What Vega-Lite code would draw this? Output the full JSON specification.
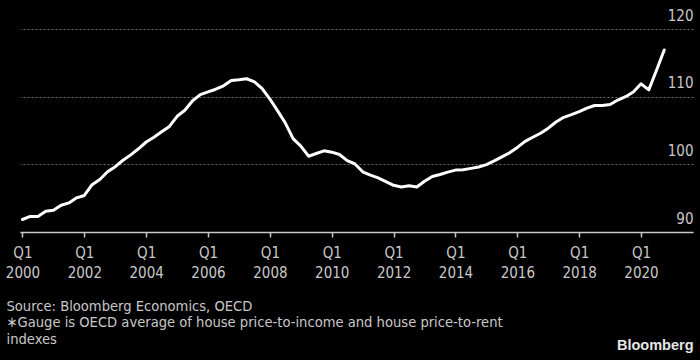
{
  "$schema": "https://vega.github.io/schema/vega-lite/v6.json",
  "width": 673,
  "height": 203,
  "autosize": {"type": "none"},
  "padding": {"left": 20, "top": 29, "right": 7, "bottom": 128},
  "background": "#000000",
  "config": {
    "view": {"stroke": null},
    "font": "DejaVu Sans Condensed"
  },
  "data": {
    "values": [
      {"t": 2000.0, "value": 91.85}, {"t": 2000.25, "value": 92.3}, {"t": 2000.5, "value": 92.3}, {"t": 2000.75, "value": 93.05},
      {"t": 2001.0, "value": 93.2}, {"t": 2001.25, "value": 93.95}, {"t": 2001.5, "value": 94.3}, {"t": 2001.75, "value": 95.05},
      {"t": 2002.0, "value": 95.4}, {"t": 2002.25, "value": 97.0}, {"t": 2002.5, "value": 97.75}, {"t": 2002.75, "value": 98.9},
      {"t": 2003.0, "value": 99.65}, {"t": 2003.25, "value": 100.6}, {"t": 2003.5, "value": 101.4}, {"t": 2003.75, "value": 102.3},
      {"t": 2004.0, "value": 103.3}, {"t": 2004.25, "value": 104.0}, {"t": 2004.5, "value": 104.8}, {"t": 2004.75, "value": 105.6},
      {"t": 2005.0, "value": 107.1}, {"t": 2005.25, "value": 108.0}, {"t": 2005.5, "value": 109.4}, {"t": 2005.75, "value": 110.3},
      {"t": 2006.0, "value": 110.7}, {"t": 2006.25, "value": 111.1}, {"t": 2006.5, "value": 111.6}, {"t": 2006.75, "value": 112.4},
      {"t": 2007.0, "value": 112.5}, {"t": 2007.25, "value": 112.65}, {"t": 2007.5, "value": 112.2}, {"t": 2007.75, "value": 111.2},
      {"t": 2008.0, "value": 109.65}, {"t": 2008.25, "value": 107.9}, {"t": 2008.5, "value": 106.1}, {"t": 2008.75, "value": 103.8},
      {"t": 2009.0, "value": 102.7}, {"t": 2009.25, "value": 101.2}, {"t": 2009.5, "value": 101.6}, {"t": 2009.75, "value": 102.0},
      {"t": 2010.0, "value": 101.8}, {"t": 2010.25, "value": 101.45}, {"t": 2010.5, "value": 100.55}, {"t": 2010.75, "value": 100.05},
      {"t": 2011.0, "value": 98.9}, {"t": 2011.25, "value": 98.4}, {"t": 2011.5, "value": 98.0}, {"t": 2011.75, "value": 97.45},
      {"t": 2012.0, "value": 96.9}, {"t": 2012.25, "value": 96.65}, {"t": 2012.5, "value": 96.85}, {"t": 2012.75, "value": 96.65},
      {"t": 2013.0, "value": 97.5}, {"t": 2013.25, "value": 98.2}, {"t": 2013.5, "value": 98.5}, {"t": 2013.75, "value": 98.85},
      {"t": 2014.0, "value": 99.15}, {"t": 2014.25, "value": 99.2}, {"t": 2014.5, "value": 99.4}, {"t": 2014.75, "value": 99.6},
      {"t": 2015.0, "value": 99.95}, {"t": 2015.25, "value": 100.5}, {"t": 2015.5, "value": 101.1}, {"t": 2015.75, "value": 101.7},
      {"t": 2016.0, "value": 102.5}, {"t": 2016.25, "value": 103.4}, {"t": 2016.5, "value": 104.0}, {"t": 2016.75, "value": 104.6},
      {"t": 2017.0, "value": 105.35}, {"t": 2017.25, "value": 106.25}, {"t": 2017.5, "value": 106.95}, {"t": 2017.75, "value": 107.35},
      {"t": 2018.0, "value": 107.8}, {"t": 2018.25, "value": 108.3}, {"t": 2018.5, "value": 108.7}, {"t": 2018.75, "value": 108.7},
      {"t": 2019.0, "value": 108.85}, {"t": 2019.25, "value": 109.5}, {"t": 2019.5, "value": 110.0}, {"t": 2019.75, "value": 110.7},
      {"t": 2020.0, "value": 111.9}, {"t": 2020.25, "value": 111.0}, {"t": 2020.5, "value": 113.9}, {"t": 2020.75, "value": 116.9}
    ]
  },
  "mark": {"type": "line", "color": "#ffffff", "strokeWidth": 3, "strokeJoin": "round", "strokeCap": "round"},
  "encoding": {
    "x": {
      "field": "t",
      "type": "quantitative",
      "scale": {"domain": [1999.92, 2021.68], "nice": false, "zero": false},
      "axis": {
        "values": [2000, 2002, 2004, 2006, 2008, 2010, 2012, 2014, 2016, 2018, 2020],
        "labelExpr": "['Q1', datum.value]",
        "grid": false,
        "zindex": 2,
        "domainColor": "#c8c8c8",
        "domainWidth": 1.5,
        "tickColor": "#c8c8c8",
        "tickWidth": 1.5,
        "tickSize": 5,
        "labelColor": "#c8c8c8",
        "labelFont": "DejaVu Sans Condensed",
        "labelFontSize": 15,
        "labelLineHeight": 20,
        "labelPadding": 8,
        "labelBaseline": "top",
        "labelFlush": false,
        "labelOverlap": false,
        "title": ["Source: Bloomberg Economics, OECD", "∗Gauge is OECD average of house price-to-income and house price-to-rent", "indexes"],
        "titleAnchor": "start",
        "titleAlign": "left",
        "titleBaseline": "top",
        "titleX": -14,
        "titleY": 66,
        "titleColor": "#c8c8c8",
        "titleFont": "DejaVu Sans Condensed",
        "titleFontSize": 14.6,
        "titleFontWeight": "normal",
        "titleLineHeight": 16.5
      }
    },
    "y": {
      "field": "value",
      "type": "quantitative",
      "scale": {"domain": [90, 120], "nice": false, "zero": false},
      "axis": {
        "orient": "right",
        "values": [90, 100, 110, 120],
        "domain": false,
        "ticks": false,
        "grid": true,
        "gridColor": "#6e6e6e",
        "gridDash": [2, 2],
        "gridWidth": 1,
        "labelAlign": "right",
        "labelBaseline": "alphabetic",
        "labelOffset": -9,
        "labelPadding": 0,
        "labelColor": "#c8c8c8",
        "labelFont": "DejaVu Sans Condensed",
        "labelFontSize": 15,
        "labelFlush": false,
        "title": "Bloomberg",
        "titleAngle": 0,
        "titleAlign": "right",
        "titleBaseline": "middle",
        "titleX": 0,
        "titleY": 316,
        "titleColor": "#e6e6e6",
        "titleFont": "Liberation Sans",
        "titleFontSize": 14.5,
        "titleFontWeight": "bold"
      }
    }
  }
}
